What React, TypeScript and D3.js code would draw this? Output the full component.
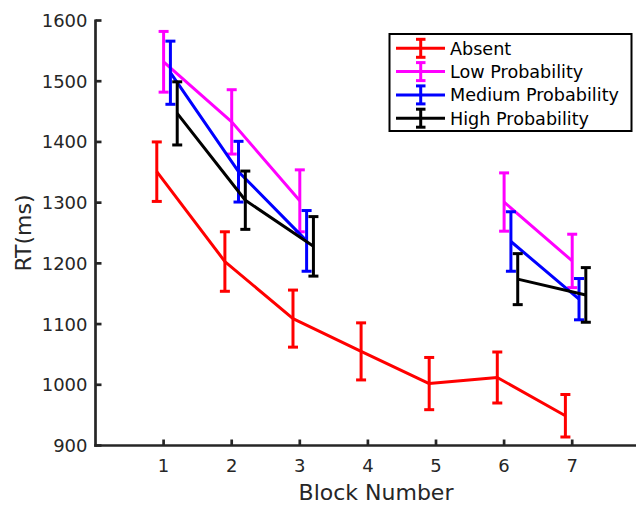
import React from "react";
import * as d3 from "d3";

const blocks = [1, 2, 3, 4, 5, 6, 7];
const absentMean = [1351, 1203, 1109, 1055, 1002, 1012, 949];
const absentErr = [49, 49, 47, 47, 43, 42, 35];
const lowMean = [1532, 1433, 1303, null, null, 1301, 1204];
const lowErr = [50, 53, 51, null, null, 48, 44];
const mediumMean = [1514, 1351, 1237, null, null, 1236, 1141];
const mediumErr = [52, 50, 50, null, null, 49, 34];
const highMean = [1447, 1304, 1228, null, null, 1174, 1148];
const highErr = [52, 48, 49, null, null, 42, 45];
const seriesNames = ["Absent", "Low Probability", "Medium Probability", "High Probability"];
const seriesColors = ["#ff0000", "#ff00ff", "#0000ff", "#000000"];
const seriesOffsets = [-0.1, 0, 0.1, 0.2];
const xTicks = [1, 2, 3, 4, 5, 6, 7];
const yTicks = [900, 1000, 1100, 1200, 1300, 1400, 1500, 1600];

const W = 636;
const H = 505;
const FONT = "'DejaVu Sans', Verdana, sans-serif";
const AXC = "#262626";

export default function App() {
  const x = d3.scaleLinear().domain([0, 8]).range([95.5, 640.3]);
  const y = d3.scaleLinear().domain([900, 1600]).range([445.5, 20.5]);
  const means = [absentMean, lowMean, mediumMean, highMean];
  const errs = [absentErr, lowErr, mediumErr, highErr];

  const line = d3
    .line<{ b: number; v: number | null }>()
    .defined((d) => d.v !== null)
    .x((d) => x(d.b))
    .y((d) => y(d.v as number));

  const cap = 5;

  return (
    <svg
      width={W}
      height={H}
      style={{ position: "absolute", left: 0, top: 0, background: "#fff" }}
      fontFamily={FONT}
    >
      {/* series */}
      {means.map((m, si) => {
        const pts = blocks.map((b, i) => ({ b: b + seriesOffsets[si], v: m[i] }));
        return (
          <g key={si} stroke={seriesColors[si]} fill="none">
            <path d={line(pts) || ""} strokeWidth={3} strokeLinejoin="round" />
            {pts.map((p, i) => {
              if (p.v === null) return null;
              const e = errs[si][i] as number;
              const cx = x(p.b);
              const y1 = y(p.v + e);
              const y2 = y(p.v - e);
              return (
                <g key={i} strokeWidth={3}>
                  <line x1={cx} x2={cx} y1={y1} y2={y2} />
                  <line x1={cx - cap} x2={cx + cap} y1={y1} y2={y1} />
                  <line x1={cx - cap} x2={cx + cap} y1={y2} y2={y2} />
                </g>
              );
            })}
          </g>
        );
      })}

      {/* axes */}
      <g stroke={AXC} strokeWidth={2.7}>
        <line x1={x(0)} x2={x(0)} y1={y(1600) - 1} y2={y(900) + 1.3} />
        <line x1={x(0) - 1.3} x2={W} y1={y(900)} y2={y(900)} />
      </g>
      <g stroke={AXC} strokeWidth={2.7}>
        {xTicks.map((t) => (
          <line key={t} x1={x(t)} x2={x(t)} y1={y(900)} y2={y(900) - 6} />
        ))}
        {yTicks.map((t) => (
          <line key={t} x1={x(0)} x2={x(0) + 6} y1={y(t)} y2={y(t)} />
        ))}
      </g>
      <g fill={AXC} fontSize={18}>
        {xTicks.map((t) => (
          <text key={t} x={x(t)} y={y(900) + 26} textAnchor="middle">
            {t}
          </text>
        ))}
        {yTicks.map((t) => (
          <text key={t} x={x(0) - 8} y={y(t)} dy="0.36em" textAnchor="end">
            {t}
          </text>
        ))}
      </g>
      <text x={376} y={500} fill={AXC} fontSize={22} textAnchor="middle">
        Block Number
      </text>
      <text
        transform={`translate(31,233) rotate(-90)`}
        fill={AXC}
        fontSize={22}
        textAnchor="middle"
      >
        RT(ms)
      </text>

      {/* legend */}
      <g>
        <rect x={389.5} y={34} width={242} height={97} fill="#fff" stroke="#000" strokeWidth={2} />
        {seriesNames.map((n, i) => {
          const ly = 48.3 + i * 23.3;
          return (
            <g key={n}>
              <g stroke={seriesColors[i]} strokeWidth={3}>
                <line x1={396} x2={445} y1={ly} y2={ly} />
                <line x1={420.7} x2={420.7} y1={ly - 9} y2={ly + 9} />
                <line x1={416} x2={425.5} y1={ly - 9} y2={ly - 9} />
                <line x1={416} x2={425.5} y1={ly + 9} y2={ly + 9} />
              </g>
              <text x={450} y={ly} dy="0.36em" fontSize={17.6} fill="#000">
                {n}
              </text>
            </g>
          );
        })}
      </g>
    </svg>
  );
}
